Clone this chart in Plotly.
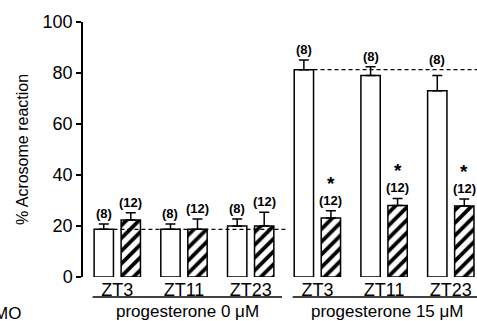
import plotly.graph_objects as go

# Time points within each progesterone condition
zt_labels = ["ZT3", "ZT11", "ZT23", "ZT3", "ZT11", "ZT23"]
conditions = ["progesterone 0 μM", "progesterone 15 μM"]

# Control (open bars) and treated (hatched bars): mean and SEM, % acrosome reaction
control_mean = [18.7, 18.7, 20.0, 81.3, 79.0, 73.0]
control_sem = [2.1, 2.1, 2.7, 3.8, 3.5, 6.0]
treated_mean = [22.4, 18.7, 20.0, 23.1, 28.0, 27.8]
treated_sem = [2.8, 4.0, 5.4, 2.9, 2.8, 2.8]

# Number of animals per bar
control_n = ["(8)"] * 6
treated_n = ["(12)"] * 6
# Significant difference vs. control
treated_sig = [False, False, False, True, True, True]

FONT = "Liberation Sans, Arial, sans-serif"
positions = list(range(len(zt_labels)))
group_starts = [0, 3]
BARGAP = 0.19
GROUPGAP = 0.284
slot = (1 - BARGAP) / 2  # width of each trace's slot in a group

fig = go.Figure()
fig.add_trace(go.Bar(
    x=positions, y=control_mean,
    marker=dict(color="white", line=dict(color="black", width=1.5)),
    error_y=dict(type="data", array=control_sem, arrayminus=[0] * 6,
                 symmetric=False, color="black", thickness=1.5, width=5),
    showlegend=False,
))
fig.add_trace(go.Bar(
    x=positions, y=treated_mean,
    marker=dict(color="white", line=dict(color="black", width=1.5),
                pattern=dict(shape="/", fgcolor="black", bgcolor="white",
                             fgopacity=1, size=9, solidity=0.42)),
    error_y=dict(type="data", array=treated_sem, arrayminus=[0] * 6,
                 symmetric=False, color="black", thickness=1.5, width=5),
    showlegend=False,
))

label_font = dict(family=FONT, size=13, color="black", weight="bold")
annotations = []
for i in positions:
    xc = i - slot / 2
    xt = i + slot / 2
    # control labels stay clear of the dashed reference line of their condition
    ref = control_mean[group_starts[i // 3]]
    yc = max(control_mean[i] + control_sem[i], ref)
    annotations.append(dict(x=xc, y=yc, text=control_n[i],
                            xref="x", yref="y", yanchor="bottom", yshift=1, showarrow=False,
                            font=label_font))
    annotations.append(dict(x=xt, y=treated_mean[i] + treated_sem[i], text=treated_n[i],
                            xref="x", yref="y", yanchor="bottom", yshift=1, showarrow=False,
                            font=label_font))
    if treated_sig[i]:
        annotations.append(dict(x=xt, y=treated_mean[i] + treated_sem[i], text="*",
                                xref="x", yref="y", yanchor="bottom", yshift=15, showarrow=False,
                                font=dict(family=FONT, size=19, color="black", weight="bold")))

shapes = []
bar_w = slot * (1 - GROUPGAP)
for g, start in enumerate(group_starts):
    # Dashed reference line at the ZT3 control level of each condition
    ref = control_mean[start]
    x_end = start + 2.55 if g == 0 else start + 2.6
    shapes.append(dict(type="line", xref="x", yref="y",
                       x0=start - slot / 2 + bar_w / 2, x1=x_end, y0=ref, y1=ref,
                       line=dict(color="black", width=1.2, dash="4px,3px")))
    # Condition underline and label
    u0, u1 = start - 0.37, start + 2.47
    shapes.append(dict(type="line", xref="x", yref="paper", x0=u0, x1=u1,
                       y0=-0.078, y1=-0.078, line=dict(color="black", width=1.5)))
    annotations.append(dict(x=(u0 + u1) / 2, y=-0.137, xref="x", yref="paper",
                            text=conditions[g], showarrow=False, yanchor="middle",
                            font=dict(family=FONT, size=17, color="black")))

annotations.append(dict(x=-60 / 394, y=-0.145, xref="paper", yref="paper", text="MO",
                        showarrow=False, xanchor="right", yanchor="middle",
                        font=dict(family=FONT, size=17, color="black")))

fig.update_layout(
    width=477, height=321,
    margin=dict(l=83, r=0, t=22, b=44),
    paper_bgcolor="white", plot_bgcolor="white",
    barmode="group", bargap=BARGAP, bargroupgap=GROUPGAP,
    font=dict(family=FONT, color="black"),
    annotations=annotations, shapes=shapes,
    xaxis=dict(range=[-0.514, 5.393], tickvals=positions, ticktext=zt_labels,
               showline=False, showgrid=False, zeroline=False, ticks="",
               tickfont=dict(size=18, color="black")),
    yaxis=dict(range=[0, 100], tickvals=[0, 20, 40, 60, 80, 100],
               showline=True, linecolor="black", linewidth=1.5,
               ticks="outside", ticklen=5, tickwidth=1.5, tickcolor="black",
               showgrid=False, zeroline=False,
               tickfont=dict(size=18, color="black"),
               title=dict(text="% Acrosome reaction", font=dict(size=16, color="black"),
                          standoff=10)),
)

fig.write_html("out.html")
